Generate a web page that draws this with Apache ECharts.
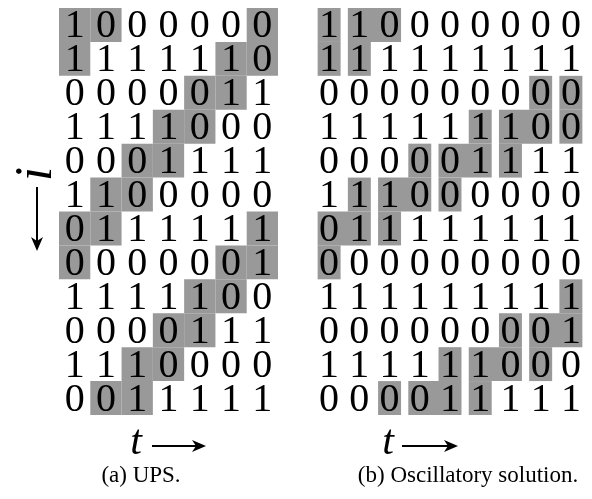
<!DOCTYPE html>
<html><head><meta charset="utf-8">
<script src="https://cdn.jsdelivr.net/npm/echarts/dist/echarts.min.js"></script>
<style>html,body{margin:0;padding:0;background:#fff}#c{width:592px;height:499px}</style>
</head><body><div id="c"></div>
<script>
// (a) UPS: 12 rows (i) x 7 columns (t)
const upsRows = [
  "1000000","1111110","0000011","1111000","0001111","1100000",
  "0111111","0000001","1111100","0000111","1110000","0011111"
];
// highlighted columns per row
const upsGray = [
  [0,1,6],[0,5,6],[4,5],[3,4],[2,3],[1,2],
  [0,1,6],[0,5,6],[4,5],[3,4],[2,3],[1,2]
];
// (b) Oscillatory solution: 12 rows x 9 columns
const oscRows = [
  "110000000","111111111","000000000","111111100","000001111","111000000",
  "011111111","000000000","111111111","000000001","111111000","000011111"
];
// highlighted runs [startCol, endCol] per row
const oscGrayRuns = [
  [[0,0],[1,2]], [[0,0],[1,1]], [[7,7],[8,8]], [[5,5],[6,7],[8,8]],
  [[3,3],[4,5],[6,6]], [[1,1],[2,3],[4,4]], [[0,1],[2,2]], [[0,0]],
  [[8,8]], [[6,6],[7,8]], [[4,4],[5,6],[7,7]], [[2,2],[3,4],[5,5]]
];
const captions = ["(a) UPS.", "(b) Oscillatory solution."];
const rowLabel = "i";
const colLabel = "t";

const SERIF = 'Liberation Serif';
const GRAY = '#999999';

function digitData(rows){
  const d=[]; rows.forEach((r,ri)=>r.split('').forEach((ch,ci)=>d.push([ci,ri,ch]))); return d;
}
const upsGrayData=[]; upsGray.forEach((cols,ri)=>cols.forEach(c=>upsGrayData.push([c,ri,c])));
const oscGrayData=[]; oscGrayRuns.forEach((runs,ri)=>runs.forEach(r=>oscGrayData.push([r[0],ri,r[1]])));

function grayRender(frac){
  return function(params, api){
    const a=api.coord([api.value(0), api.value(1)]);
    const b=api.coord([api.value(2), api.value(1)]);
    const s=api.size([1,1]);
    const w=s[0]*frac;
    return {type:'rect', shape:{x:a[0]-w/2, y:a[1]-s[1]/2, width:b[0]-a[0]+w, height:s[1]},
      style:{fill:GRAY}};
  };
}
function textRender(params, api){
  const p=api.coord([api.value(0), api.value(1)]);
  return {type:'text', x:p[0], y:p[1]+2, style:{text:String(api.value(2)), fontSize:40,
    fontFamily:SERIF, fill:'#000', align:'center', verticalAlign:'middle'}};
}
const idx=n=>Array.from({length:n},(_,i)=>String(i));

const chart=echarts.init(document.getElementById('c'),null,{renderer:'canvas'});
function arrowH(x0,x1,y){
  return [
    {type:'line', shape:{x1:x0,y1:y,x2:x1-6,y2:y}, style:{stroke:'#000', lineWidth:2}},
    {type:'polygon', shape:{points:[[x1,y],[x1-14,y-6],[x1-10,y],[x1-14,y+6]]}, style:{fill:'#000'}}
  ];
}
function arrowV(x,y0,y1){
  return [
    {type:'line', shape:{x1:x,y1:y0,x2:x,y2:y1-6}, style:{stroke:'#000', lineWidth:2}},
    {type:'polygon', shape:{points:[[x,y1],[x-6,y1-14],[x,y1-10],[x+6,y1-14]]}, style:{fill:'#000'}}
  ];
}
function txt(x,y,text,size,italic,rot){
  return {type:'text', x:x, y:y, rotation:rot||0, style:{text:text, fontSize:size, fontFamily:SERIF,
    fontStyle:italic?'italic':'normal', fill:'#000', align:'center', verticalAlign:'middle'}};
}
chart.setOption({
  animation:false,
  backgroundColor:'#fff',
  grid:[
    {left:59, top:8, width:219, height:407},
    {left:314, top:8, width:272, height:407}
  ],
  xAxis:[
    {type:'category', gridIndex:0, data:idx(7), show:false},
    {type:'category', gridIndex:1, data:idx(9), show:false}
  ],
  yAxis:[
    {type:'category', gridIndex:0, data:idx(12), inverse:true, show:false},
    {type:'category', gridIndex:1, data:idx(12), inverse:true, show:false}
  ],
  series:[
    {type:'custom', xAxisIndex:0, yAxisIndex:0, renderItem:grayRender(1), data:upsGrayData, silent:true},
    {type:'custom', xAxisIndex:1, yAxisIndex:1, renderItem:grayRender(0.76), data:oscGrayData, silent:true},
    {type:'custom', xAxisIndex:0, yAxisIndex:0, renderItem:textRender, data:digitData(upsRows), silent:true},
    {type:'custom', xAxisIndex:1, yAxisIndex:1, renderItem:textRender, data:digitData(oscRows), silent:true}
  ],
  graphic:[
    txt(37,174,rowLabel,52,true,Math.PI/2),
    ...arrowV(37,187,251),
    txt(136,443,colLabel,42,true),
    ...arrowH(152,206,446),
    txt(388,443,colLabel,42,true),
    ...arrowH(402,458,446),
    txt(141,476,captions[0],23,false),
    txt(468,476,captions[1],23,false)
  ]
});
</script></body></html>
